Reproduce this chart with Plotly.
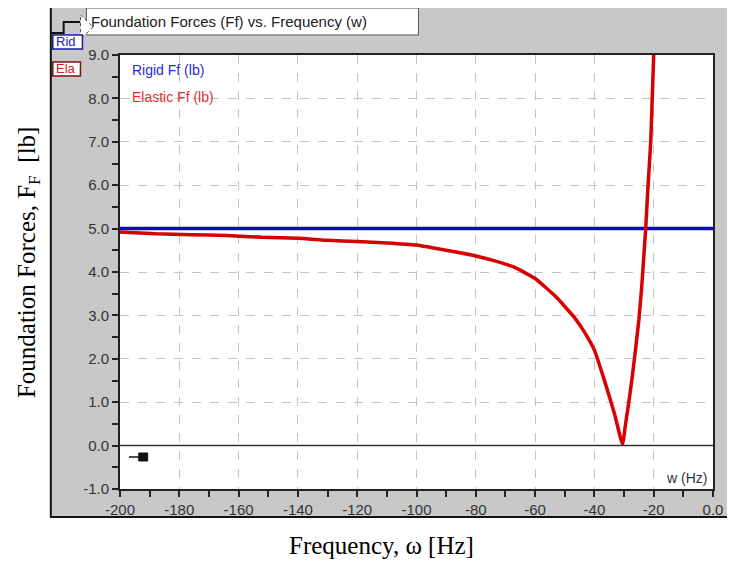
import plotly.graph_objects as go

# data
freq_rigid = [-200, 0]
force_rigid = [5.0, 5.0]

freq_elastic = [-200, -188, -176, -164, -152, -140, -130, -120, -110, -100,
                -93.3, -86.7, -80, -73.3, -66.7, -60, -53.3, -46.7, -43.3, -40,
                -36.7, -33.3, -30.5, -29.5, -28.5, -27.5, -26.5, -25, -24,
                -23.3, -22.7, -21.9, -21, -20.5, -20, -19.6]
force_elastic = [4.92, 4.88, 4.86, 4.84, 4.80, 4.78, 4.73, 4.70, 4.67, 4.62,
                 4.54, 4.46, 4.37, 4.25, 4.10, 3.85, 3.45, 2.95, 2.61, 2.20,
                 1.52, 0.75, 0.03, 0.5, 0.95, 1.45, 2.0, 2.9, 3.7,
                 4.4, 5.0, 6.0, 7.0, 8.0, 9.0, 10.0]

x_ticks = list(range(-200, 1, 20))
x_labels = [str(v) for v in x_ticks[:-1]] + ['0.0']
y_ticks = list(range(-1, 10))
y_labels = ['%.1f' % v for v in y_ticks]

# the page adds an 8px body margin, so work in page pixels and shift
OFF = 8
W, H = 735 - OFF, 563 - OFF
# plot area in page pixels: x 120..720, y 55..489
L, R, T, B = 120, 720, 55, 489


def xp(px):
    return (px - L) / (R - L)


def yp(py):
    return (B - py) / (B - T)


def box(x0, y0, x1, y1, fill, line=None, layer='above'):
    return dict(type='rect', xref='paper', yref='paper', layer=layer,
                x0=xp(x0), x1=xp(x1), y0=yp(y1), y1=yp(y0),
                fillcolor=fill, line=line or dict(width=0))


tick_font = dict(family='Liberation Sans, Arial', size=15, color='#333333')
grey = '#c8c8c8'

fig = go.Figure()
fig.add_trace(go.Scatter(
    x=freq_rigid, y=force_rigid, mode='lines',
    line=dict(color='#0a0ac0', width=3.5), name='Rigid Ff (lb)',
))
fig.add_trace(go.Scatter(
    x=freq_elastic, y=force_elastic, mode='lines',
    line=dict(color='#d80000', width=3.5, shape='spline', smoothing=0.4),
    name='Elastic Ff (lb)',
))

shapes = [
    # grey panel around the plot area
    box(50, 7, 740, T, grey, layer='below'),
    box(50, B, 740, 517, grey, layer='below'),
    box(50, T, L, B, grey, layer='below'),
    box(R, T, 740, B, grey, layer='below'),
    box(50, 7, 740, 517, 'rgba(0,0,0,0)', dict(color='#111111', width=2), layer='below'),
    # zero line
    dict(type='line', xref='x', yref='y', x0=-200, x1=0, y0=0, y1=0,
         line=dict(color='#333333', width=1.5)),
    # title box
    box(86, 8, 422, 35, 'white', dict(color='#555555', width=1)),
    # bracket icon
    dict(type='path', xref='paper', yref='paper',
         path='M %f,%f L %f,%f L %f,%f L %f,%f' % (
             xp(50), yp(33), xp(63), yp(33), xp(63), yp(22), xp(80), yp(22)),
         line=dict(color='#111111', width=2)),
    dict(type='path', xref='paper', yref='paper',
         path='M %f,%f L %f,%f L %f,%f Z' % (
             xp(80), yp(15), xp(93), yp(27), xp(80), yp(39)),
         fillcolor='white', line=dict(color='#444444', width=1, dash='dot')),
    # small series boxes
    box(52, 35, 82, 49, 'white', dict(color='#1a1aa0', width=1.5)),
    box(52, 62, 80, 76, 'white', dict(color='#7a1010', width=1.5)),
    # little marker near origin
    dict(type='line', xref='paper', yref='paper',
         x0=xp(129), x1=xp(141), y0=yp(457), y1=yp(457),
         line=dict(color='#111111', width=1.5)),
    box(139, 453, 148, 461, '#111111', dict(color='#111111', width=1)),
]

annotations = [
    dict(text='Foundation Forces (Ff) vs. Frequency (w)', xref='paper', yref='paper',
         x=xp(89), y=yp(21), xanchor='left', yanchor='middle', showarrow=False,
         font=dict(family='Liberation Sans, Arial', size=15, color='#222222')),
    dict(text='Rid', xref='paper', yref='paper', x=xp(53), y=yp(42),
         xanchor='left', yanchor='middle', showarrow=False,
         font=dict(family='Liberation Sans, Arial', size=13, color='#2020b0')),
    dict(text='Ela', xref='paper', yref='paper', x=xp(53), y=yp(69),
         xanchor='left', yanchor='middle', showarrow=False,
         font=dict(family='Liberation Sans, Arial', size=13, color='#d02020')),
    dict(text='Rigid Ff (lb)', xref='paper', yref='paper', x=xp(130), y=yp(70),
         xanchor='left', yanchor='middle', showarrow=False,
         font=dict(family='Liberation Sans, Arial', size=14, color='#2a2ad0')),
    dict(text='Elastic Ff (lb)', xref='paper', yref='paper', x=xp(130), y=yp(97),
         xanchor='left', yanchor='middle', showarrow=False,
         font=dict(family='Liberation Sans, Arial', size=14, color='#e03030')),
    dict(text='w (Hz)', xref='paper', yref='paper', x=xp(716), y=yp(478),
         xanchor='right', yanchor='middle', showarrow=False,
         font=dict(family='Liberation Sans, Arial', size=14, color='#333333')),
    dict(text='Foundation Forces, F<sub>F</sub>  [lb]', xref='paper', yref='paper',
         x=xp(27), y=yp(262), xanchor='center', yanchor='middle', showarrow=False,
         textangle=-90,
         font=dict(family='Liberation Serif, Times New Roman', size=25, color='black')),
    dict(text='Frequency, \u03c9 [Hz]', xref='paper', yref='paper',
         x=xp(385), y=yp(545), xanchor='center', yanchor='middle', showarrow=False,
         font=dict(family='Liberation Serif, Times New Roman', size=25, color='black')),
]

grid = dict(showgrid=True, gridcolor='#c4c4c4', griddash='dash', gridwidth=1)

fig.update_layout(
    width=W, height=H,
    margin=dict(l=L - OFF, r=W - (R - OFF), t=T - OFF, b=H - (B - OFF)),
    paper_bgcolor='white', plot_bgcolor='white',
    showlegend=False,
    shapes=shapes, annotations=annotations,
    xaxis=dict(
        range=[-200, 0], tickvals=x_ticks, ticktext=x_labels,
        ticks='outside', ticklen=6, tickwidth=1.5, tickcolor='#222222',
        minor=dict(dtick=10, tick0=0, ticks='outside', ticklen=6,
                   tickcolor='#222222', showgrid=False),
        showline=True, linecolor='#222222', linewidth=2, mirror=True,
        zeroline=False, tickfont=tick_font, ticklabelstandoff=0, **grid,
    ),
    yaxis=dict(
        range=[-1, 9], tickvals=y_ticks, ticktext=y_labels,
        ticks='outside', ticklen=6, tickwidth=1.5, tickcolor='#222222',
        minor=dict(dtick=0.5, tick0=0, ticks='outside', ticklen=6,
                   tickcolor='#222222', showgrid=False),
        showline=True, linecolor='#222222', linewidth=2, mirror=True,
        zeroline=False, tickfont=tick_font, ticklabelstandoff=0, **grid,
    ),
    xaxis2=dict(
        range=[-200, 0], overlaying='x', tickvals=x_ticks, showticklabels=False,
        ticks='inside', ticklen=6, tickwidth=1.5, tickcolor='#222222',
        minor=dict(dtick=10, tick0=0, ticks='inside', ticklen=6, tickcolor='#222222'),
        showgrid=False, zeroline=False, showline=False,
    ),
    yaxis2=dict(
        range=[-1, 9], overlaying='y', tickvals=y_ticks, showticklabels=False,
        ticks='inside', ticklen=6, tickwidth=1.5, tickcolor='#222222',
        minor=dict(dtick=0.5, tick0=0, ticks='inside', ticklen=6, tickcolor='#222222'),
        showgrid=False, zeroline=False, showline=False,
    ),
)

fig.write_html('out.html')
